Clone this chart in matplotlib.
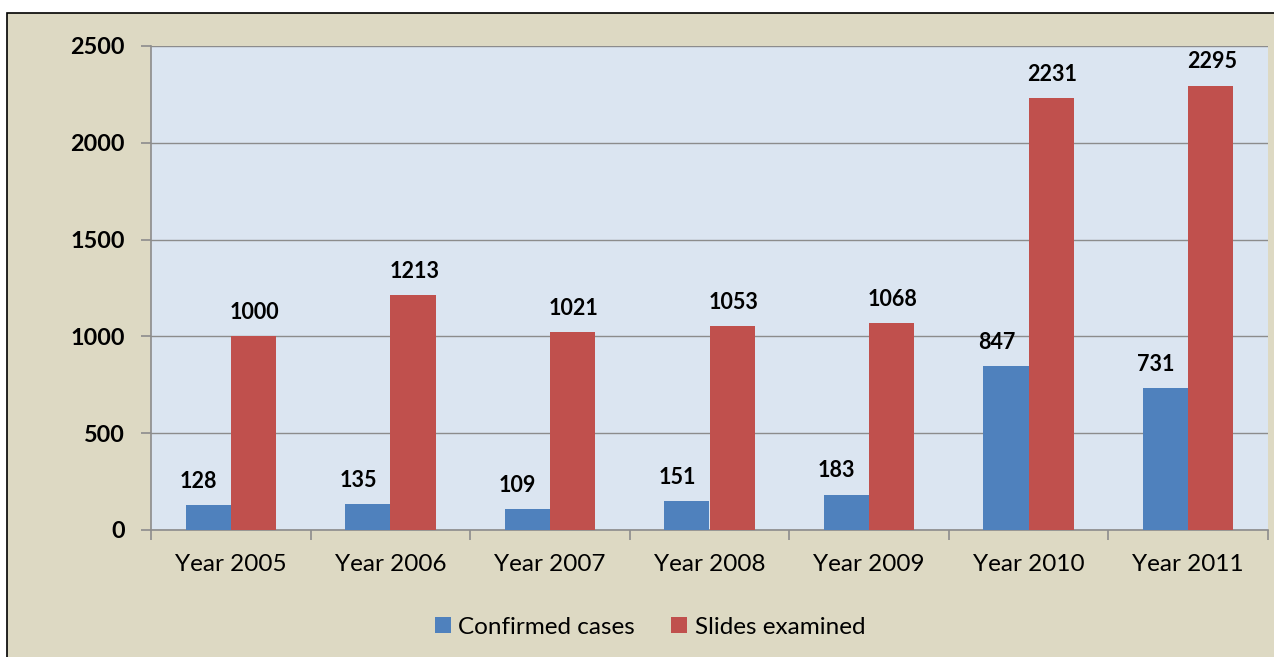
import matplotlib
matplotlib.use("Agg")
import matplotlib.pyplot as plt
from matplotlib.patches import Rectangle
import numpy as np

categories = ["Year 2005", "Year 2006", "Year 2007", "Year 2008", "Year 2009", "Year 2010", "Year 2011"]
confirmed = [128, 135, 109, 151, 183, 847, 731]
slides = [1000, 1213, 1021, 1053, 1068, 2231, 2295]
yticks = [0, 500, 1000, 1500, 2000, 2500]

BLUE = "#4F81BD"
RED = "#C0504D"
PLOT_BG = "#DBE5F1"
FIG_BG = "#DDD9C3"
FONT = ["Lato", "DejaVu Sans"]

fig = plt.figure(figsize=(12.74, 6.57), dpi=100)
fig.patch.set_facecolor("white")
W, H = 1274, 657
fig.patches.append(Rectangle((7 / W, -0.05), 1.1, (H - 13) / H + 0.05,
                             transform=fig.transFigure, facecolor=FIG_BG,
                             edgecolor="black", linewidth=1.2, zorder=-10))

ax = fig.add_axes([151 / W, (H - 530) / H, (1268 - 151) / W, (530 - 46) / H])
ax.set_facecolor(PLOT_BG)

x = np.arange(len(categories))
w = 0.283
b1 = ax.bar(x - w / 2, confirmed, w, color=BLUE, label="Confirmed cases", zorder=3)
b2 = ax.bar(x + w / 2, slides, w, color=RED, label="Slides examined", zorder=3)

for xi, v in zip(x, confirmed):
    ax.annotate(str(v), (xi - w / 2, v), xytext=(-7, 9.5), textcoords="offset points",
                ha="center", va="bottom", fontsize=15.5, fontweight="bold", family=FONT)
for xi, v in zip(x, slides):
    ax.annotate(str(v), (xi + w / 2, v), xytext=(1, 9.5), textcoords="offset points",
                ha="center", va="bottom", fontsize=15.5, fontweight="bold", family=FONT)

ax.set_xlim(-0.5, len(categories) - 0.5)
ax.set_ylim(0, 2500)
ax.set_yticks(yticks)
ax.set_yticklabels([str(t) for t in yticks], fontsize=16.8, fontweight="bold", family=FONT)
ax.yaxis.grid(True, color="#8C8C8C", linewidth=1.0, zorder=0)
ax.set_axisbelow(True)

ax.set_xticks(x)
ax.set_xticklabels(categories, fontsize=17.5, family=FONT)
ax.set_xticks(np.arange(-0.5, len(categories), 1.0), minor=True)
ax.tick_params(axis="x", which="major", length=0, pad=17)
ax.tick_params(axis="x", which="minor", length=7, color="#8C8C8C", width=1.2)
ax.tick_params(axis="y", length=7, color="#8C8C8C", width=1.2, pad=12)

for s in ["top", "right"]:
    ax.spines[s].set_visible(False)
for s in ["left", "bottom"]:
    ax.spines[s].set_color("#8C8C8C")
    ax.spines[s].set_linewidth(1.2)

leg = fig.legend(handles=[b1, b2], loc="center", bbox_to_anchor=(650 / W, (H - 627) / H),
                 ncol=2, frameon=False, prop={"family": FONT, "size": 17.5},
                 handlelength=0.66, handleheight=0.66, handletextpad=0.3, columnspacing=1.5)

fig.savefig("out.png", dpi=100, facecolor=fig.get_facecolor())
